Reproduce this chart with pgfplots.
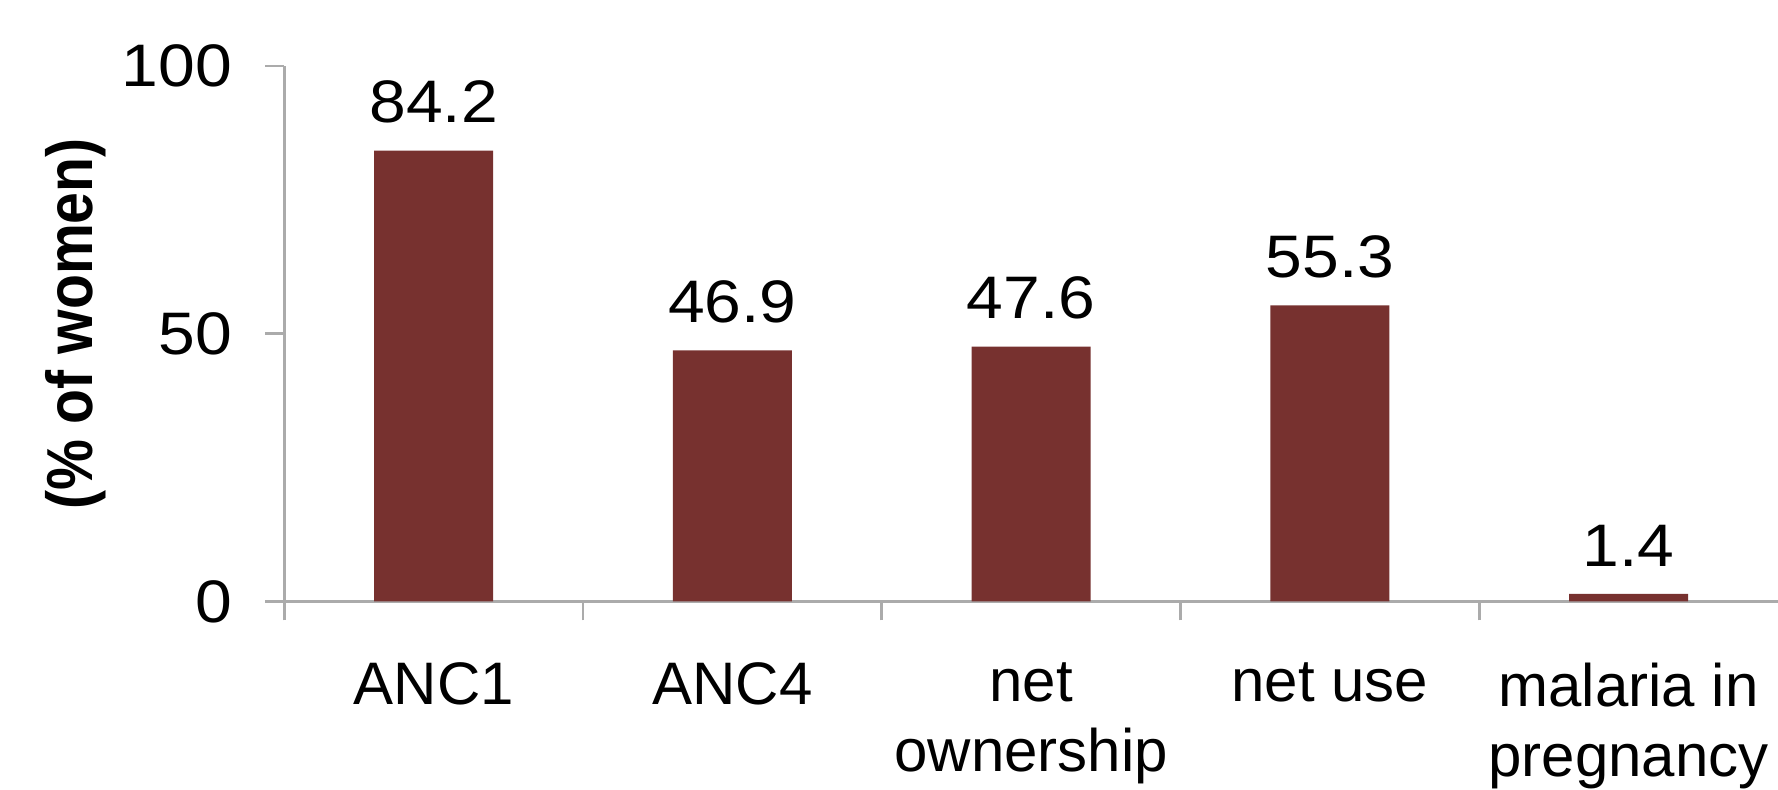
\documentclass[border=0pt]{standalone}
\usepackage{pgfplots}
\pgfplotsset{compat=1.18}
\usepackage{fontspec}
\setmainfont{Liberation Sans}
\newfontfamily\numfont[FakeStretch=1.1]{Liberation Sans}
\newfontfamily\labfont[FakeStretch=0.88]{Liberation Sans}
\definecolor{barred}{HTML}{77312F}
\definecolor{axgray}{HTML}{ABABAB}
\begin{document}
\begin{tikzpicture}
\begin{axis}[
  at={(85.3pt,56.55pt)}, anchor=south west,
  scale only axis,
  width=448.1pt, height=160.65pt,
  ybar, bar width=35.7pt,
  xmin=-0.5, xmax=4.5, ymin=0, ymax=100,
  enlargelimits=false,
  axis x line*=bottom, axis y line*=left,
  axis line style={axgray, line width=0.8pt},
  tick style={axgray, line width=0.8pt},
  tick align=outside,
  major tick length=5.7pt, minor tick length=5.7pt,
  xtick={0,1,2,3,4},
  xticklabels={ANC1, ANC4, {net\\ownership}, net use, {malaria in\\pregnancy}},
  major x tick style={draw=none},
  minor xtick={-0.5,0.5,1.5,2.5,3.5},
  ytick={0,50,100},
  /pgf/number format/assume math mode=true,
  tick label style={inner sep=0pt},
  xticklabel style={font=\fontsize{18}{21}\selectfont, align=center, anchor=north, yshift=-12.5pt},
  yticklabel style={font=\numfont\fontsize{18}{20}\selectfont, anchor=east, xshift=-9.8pt},
  ylabel={(\% of women)},
  ylabel style={font=\labfont\fontsize{19.5}{22}\selectfont\bfseries, at={(axis description cs:-0.14,0.518)}, anchor=center},
  nodes near coords,
  point meta=explicit symbolic,
  nodes near coords style={font=\numfont\fontsize{18}{20}\selectfont, anchor=south, inner sep=0pt, yshift=8pt, black},
]
\addplot[fill=barred, draw=none] coordinates {
  (0,84.2) [84.2]
  (1,46.9) [46.9]
  (2,47.6) [47.6]
  (3,55.3) [55.3]
  (4,1.4) [1.4]
};
\end{axis}
\pgfresetboundingbox
\path[use as bounding box] (0,0) rectangle (533.4pt,237pt);
\end{tikzpicture}
\end{document}
